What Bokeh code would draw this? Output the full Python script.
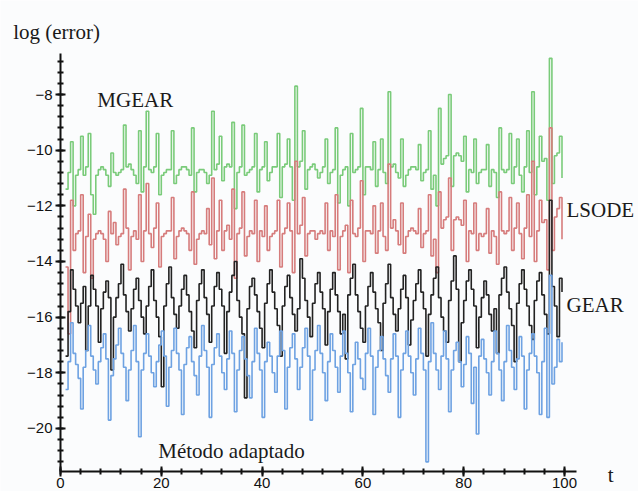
from bokeh.plotting import figure
from bokeh.models import Range1d, SingleIntervalTicker, Label
from bokeh.embed import file_html
from bokeh.resources import INLINE

# sampling of the time axis (t = t_start + t_step * i)
t_start = 1.0
t_step = 0.5

mgear = [
    -11.4, -10.8, -9.7, -12.0, -10.9, -10.7, -9.5, -10.9, -10.6, -9.4,
    -11.6, -12.3, -10.9, -10.7, -10.6, -10.7, -10.9, -11.3, -10.1, -10.8,
    -10.9, -10.8, -10.7, -9.1, -10.6, -10.5, -10.7, -10.9, -11.2, -9.3,
    -11.5, -10.6, -8.6, -10.7, -10.8, -10.6, -9.4, -11.6, -10.9, -10.8,
    -10.7, -10.7, -9.3, -11.2, -10.9, -10.7, -10.6, -10.6, -10.7, -10.9,
    -9.2, -11.5, -10.8, -10.7, -10.7, -10.8, -11.2, -10.9, -8.6, -10.7,
    -10.5, -9.5, -11.1, -10.6, -10.5, -10.6, -9.0, -12.1, -10.8, -10.6,
    -9.1, -10.9, -10.8, -10.7, -10.6, -9.4, -11.5, -10.7, -10.6, -9.7,
    -11.1, -10.8, -10.6, -10.6, -9.4, -11.7, -10.6, -10.5, -9.6, -10.6,
    -11.8, -7.7, -10.6, -10.4, -9.3, -11.4, -10.7, -10.6, -10.5, -10.7,
    -11.0, -10.8, -10.6, -9.6, -11.2, -10.8, -10.7, -9.2, -11.9, -10.9,
    -10.7, -10.6, -12.0, -9.4, -10.8, -10.7, -10.6, -8.5, -11.6, -10.6,
    -10.6, -10.7, -9.7, -11.3, -10.7, -9.6, -10.8, -11.2, -7.9, -10.6,
    -10.5, -10.8, -11.0, -9.6, -11.3, -10.9, -10.7, -10.6, -10.6, -10.7,
    -9.8, -11.1, -10.8, -10.7, -9.3, -11.4, -10.9, -12.0, -8.5, -10.5,
    -10.3, -10.2, -8.0, -11.3, -10.2, -10.1, -10.2, -10.4, -9.5, -11.5,
    -10.7, -10.8, -9.6, -11.2, -10.8, -10.7, -10.7, -9.8, -11.3, -10.7,
    -10.8, -11.7, -9.2, -10.7, -10.8, -10.7, -9.4, -11.2, -10.6, -9.6,
    -10.9, -11.5, -10.6, -9.3, -10.8, -7.9, -11.6, -10.6, -9.5, -10.4,
    -10.3, -11.8, -6.7, -11.2, -10.2, -10.1, -9.5, -11.0,
]

lsode = [
    -14.2, -16.6, -11.8, -13.6, -13.0, -12.9, -11.6, -14.4, -13.1, -12.3,
    -14.6, -13.2, -13.0, -12.9, -13.0, -13.2, -14.0, -12.2, -13.0, -12.6,
    -13.4, -13.1, -13.0, -11.4, -12.8, -14.3, -13.1, -12.9, -13.2, -11.6,
    -14.0, -12.9, -11.2, -13.0, -13.5, -12.8, -11.9, -14.2, -13.1, -13.0,
    -12.9, -12.9, -11.7, -13.9, -13.1, -12.9, -12.8, -12.9, -13.0, -13.6,
    -11.5, -14.1, -13.2, -13.0, -12.9, -13.0, -12.1, -13.4, -11.0, -13.9,
    -12.9, -11.8, -13.6, -12.9, -12.7, -13.2, -11.4, -14.6, -13.0, -12.8,
    -11.5, -13.8, -13.1, -12.9, -13.0, -11.8, -14.0, -12.9, -13.1, -12.0,
    -13.6, -13.1, -13.0, -12.9, -11.8, -14.2, -13.0, -12.8, -11.9, -12.9,
    -14.4, -10.4, -13.0, -12.7, -11.7, -13.8, -13.0, -12.9, -12.9, -13.2,
    -13.0, -12.9, -13.0, -11.9, -13.6, -12.9, -13.1, -11.6, -14.3, -13.1,
    -12.9, -12.7, -14.4, -11.8, -13.0, -13.1, -12.8, -11.1, -14.0, -12.9,
    -12.9, -13.0, -12.0, -13.7, -12.9, -11.9, -13.1, -13.6, -10.5, -12.8,
    -12.5, -12.9, -13.4, -11.9, -13.7, -13.1, -12.9, -12.8, -12.9, -13.0,
    -12.1, -13.5, -13.0, -12.9, -11.6, -13.8, -13.2, -14.4, -11.5, -12.8,
    -12.5, -12.4, -11.0, -13.6, -12.5, -12.4, -12.5, -12.7, -11.8, -14.0,
    -12.9, -13.0, -11.9, -13.6, -13.0, -13.1, -13.0, -12.1, -13.7, -12.9,
    -13.1, -14.1, -11.5, -12.9, -13.0, -12.9, -11.7, -13.6, -12.8, -11.9,
    -13.0, -13.9, -12.8, -11.6, -13.1, -10.4, -14.0, -12.9, -11.8, -12.6,
    -12.5, -14.3, -9.2, -13.6, -12.4, -12.1, -11.7, -13.2,
]

gear = [
    -17.4, -15.8, -14.3, -15.0, -15.6, -16.2, -15.5, -14.9, -17.2, -15.6,
    -14.5, -15.0, -15.6, -16.9, -15.7, -15.1, -14.7, -15.3, -17.9, -16.0,
    -15.3, -14.8, -14.1, -15.2, -15.8, -16.5, -15.7, -15.0, -14.6, -15.4,
    -16.0, -16.6, -15.6, -14.9, -14.3, -15.4, -16.0, -16.7, -18.5, -15.6,
    -14.8, -14.2, -15.3, -15.9, -16.4, -15.6, -15.0, -14.5, -15.2, -15.8,
    -16.5, -17.1, -15.4, -14.8, -14.3, -15.3, -15.9, -16.9, -15.6, -14.9,
    -14.4, -15.0, -15.6, -17.3, -15.8, -15.1, -14.5, -14.0, -15.4, -16.0,
    -16.6, -18.9, -15.7, -14.9, -14.6, -15.2, -15.8, -16.4, -17.1, -15.5,
    -14.8, -14.3, -15.1, -15.7, -16.3, -17.4, -15.6, -14.9, -14.5, -15.3,
    -15.9, -16.5, -15.7, -13.9, -14.6, -15.4, -16.0, -16.7, -15.5, -14.8,
    -14.4, -15.1, -15.7, -17.0, -15.8, -15.0, -14.4, -15.2, -15.8, -16.6,
    -15.9, -17.5, -15.2, -14.6, -14.1, -15.2, -15.8, -16.4, -16.9, -15.6,
    -14.9, -14.4, -15.1, -15.7, -16.2, -17.2, -15.5, -14.8, -14.1, -15.3,
    -15.9, -16.5, -15.7, -15.0, -14.5, -15.3, -17.0, -16.1, -15.4, -14.8,
    -14.3, -15.1, -15.7, -17.4, -15.9, -15.2, -14.6, -14.2, -15.3, -16.0,
    -16.5, -16.9, -15.4, -14.7, -13.8, -15.0, -17.6, -16.2, -15.4, -14.7,
    -14.3, -15.0, -15.6, -17.1, -16.0, -15.3, -14.7, -15.2, -15.9, -16.5,
    -15.7, -17.3, -15.2, -14.6, -14.2, -15.1, -15.7, -16.3, -17.6, -15.5,
    -14.8, -14.3, -15.0, -15.6, -16.3, -16.8, -15.4, -14.7, -14.4, -15.2,
    -15.9, -16.6, -11.8, -14.9, -15.6, -16.7, -14.6, -15.1,
]

adaptado = [
    -18.6, -17.6, -16.2, -17.3, -17.7, -18.2, -19.3, -17.8, -17.2, -16.3,
    -17.4, -17.9, -18.4, -17.6, -17.1, -16.6, -17.5, -19.7, -18.1, -17.5,
    -17.0, -16.4, -17.3, -17.8, -19.0, -17.9, -17.2, -16.3, -17.6, -20.3,
    -17.9, -17.3, -16.6, -17.4, -18.0, -18.5, -17.6, -17.0, -16.5, -17.4,
    -19.2, -17.8, -17.2, -16.4, -17.3, -17.9, -19.5, -17.7, -17.1, -16.7,
    -17.6, -18.1, -18.8, -17.4, -16.3, -17.2, -17.8, -19.6, -17.7, -17.1,
    -16.6, -17.4, -18.0, -18.6, -17.5, -16.5, -17.3, -19.4, -17.9, -17.2,
    -16.7, -17.5, -18.1, -18.9, -17.6, -16.4, -17.3, -17.9, -19.6, -17.6,
    -16.9, -17.4, -18.0, -18.7, -17.4, -16.5, -17.2, -19.3, -17.8, -17.1,
    -16.6, -17.5, -18.6, -17.8, -17.1, -16.4, -17.4, -19.7, -17.9, -17.2,
    -16.3, -17.3, -18.0, -19.0, -17.6, -16.6, -17.2, -17.8, -18.7, -17.4,
    -16.5, -17.3, -18.0, -19.4, -17.7, -16.9, -17.5, -18.2, -18.6, -17.3,
    -16.4, -17.4, -19.5, -17.8, -17.2, -16.7, -17.5, -18.1, -18.7, -17.5,
    -16.6, -17.4, -19.6, -17.9, -17.3, -16.5, -17.4, -18.0, -18.8, -17.5,
    -16.4, -17.3, -17.9, -21.2, -17.6, -16.2, -17.3, -17.9, -18.6, -17.4,
    -16.5, -17.5, -19.4, -17.9, -17.2, -16.9, -17.6, -18.5, -17.7, -16.7,
    -17.3, -19.1, -17.8, -20.2, -17.4, -16.8, -17.5, -18.0, -18.8, -17.6,
    -16.5, -17.3, -17.9, -19.0, -17.6, -16.3, -17.2, -17.8, -18.6, -17.5,
    -16.7, -17.4, -19.3, -17.9, -17.3, -16.6, -17.4, -18.0, -19.5, -17.6,
    -16.4, -19.6, -14.5, -18.4, -17.8, -16.8, -17.6, -16.9,
]

series_names = ["MGEAR", "LSODE", "GEAR", "Método adaptado"]
series_values = [mgear, lsode, gear, adaptado]
series_colors = ["#7acb7a", "#d67c7c", "#222222", "#6ea2e2"]

label_texts = ["MGEAR", "LSODE", "GEAR", "Método adaptado", "log (error)", "t"]
label_x = [7.3, 100.4, 100.4, 19.4, -9.4, 108.6]
label_y = [-8.2, -12.15, -15.55, -20.82, -5.75, -21.68]

x_ticks_interval = 20
y_ticks_interval = 2

p = figure(width=638, height=491, output_backend="svg", toolbar_location=None,
           x_range=Range1d(-11.905, 114.68), y_range=Range1d(-22.265, -4.622),
           min_border_left=0, min_border_right=0, min_border_top=0,
           min_border_bottom=0)
p.background_fill_color = "#fbfcfd"
p.border_fill_color = "#fbfcfd"
p.outline_line_color = None
p.xgrid.visible = False
p.ygrid.visible = False

for vals, col in zip(series_values, series_colors):
    ts = [t_start + t_step * i for i in range(len(vals))]
    p.step(ts, vals, mode="after", line_color=col, line_width=1.6)

for ax in (p.xaxis[0], p.yaxis[0]):
    ax.axis_line_color = "#111111"
    ax.axis_line_width = 2
    ax.major_tick_line_color = "#111111"
    ax.minor_tick_line_color = "#111111"
    ax.major_tick_line_width = 2
    ax.minor_tick_line_width = 2
    ax.major_tick_in = 5
    ax.major_tick_out = 5
    ax.minor_tick_in = 3
    ax.minor_tick_out = 3
    ax.major_label_text_font = "Liberation Sans"
    ax.major_label_text_font_size = "15px"
    ax.major_label_text_color = "#111111"

p.xaxis.ticker = SingleIntervalTicker(interval=x_ticks_interval, num_minor_ticks=5)
p.yaxis.ticker = SingleIntervalTicker(interval=y_ticks_interval, num_minor_ticks=5)
p.xaxis.bounds = (0, 102.3)
p.yaxis.bounds = (-21.55, -6.53)
p.xaxis.fixed_location = -21.55
p.yaxis.fixed_location = 0
p.xaxis.major_label_standoff = 1
p.yaxis.major_label_standoff = 3

for txt, lx, ly in zip(label_texts, label_x, label_y):
    p.add_layout(Label(x=lx, y=ly, text=txt, text_font="Liberation Serif",
                       text_font_size="21px", text_color="#1a1a1a",
                       text_baseline="alphabetic", text_align="left"))

open("out.html", "w").write(file_html(p, INLINE))
